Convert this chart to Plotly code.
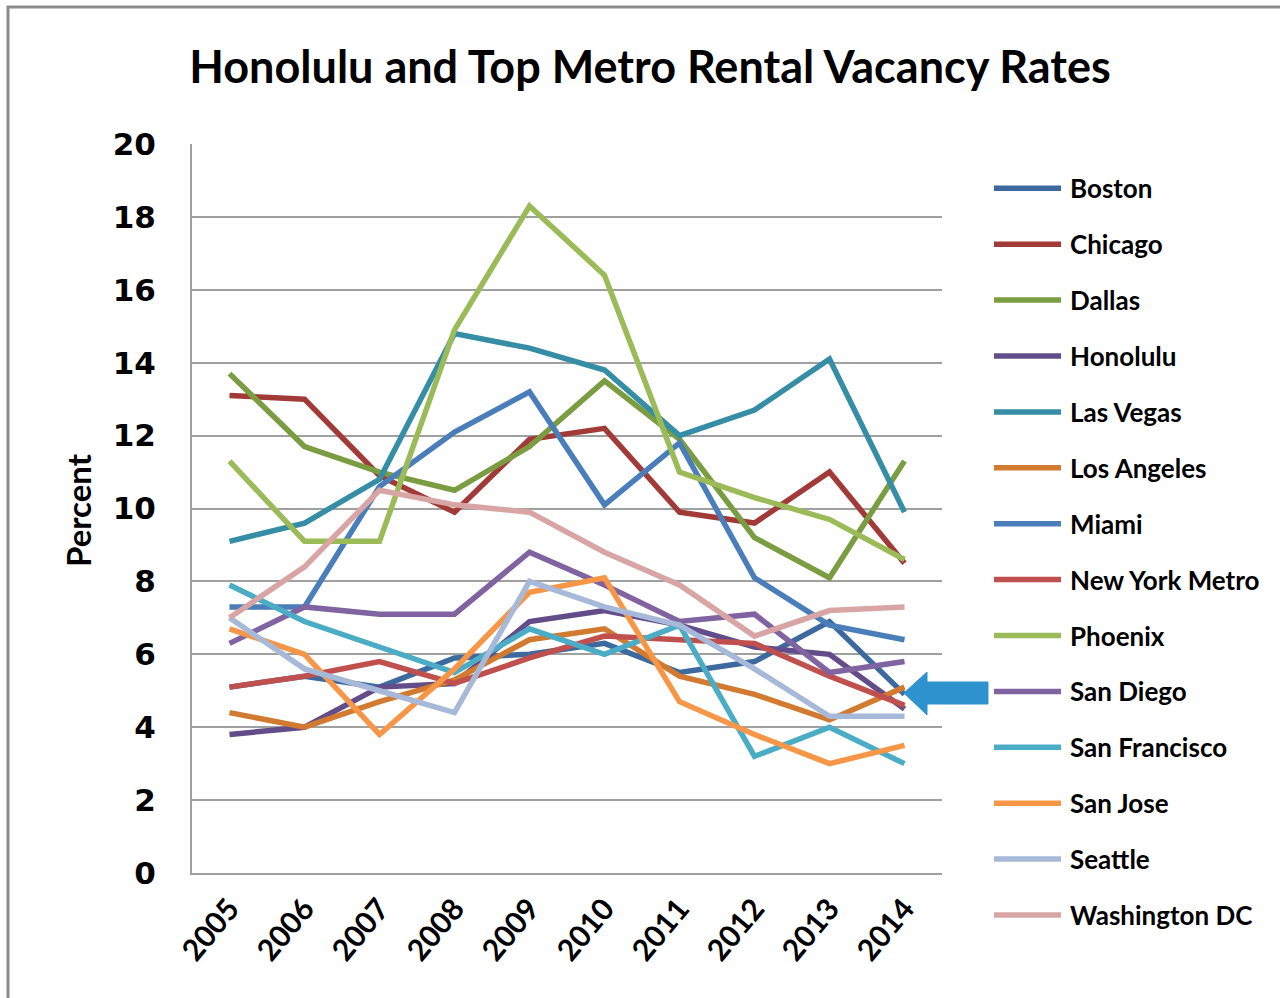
import plotly.graph_objects as go

years = [2005, 2006, 2007, 2008, 2009, 2010, 2011, 2012, 2013, 2014]
year_labels = [str(y) for y in years]

boston = [5.1, 5.4, 5.1, 5.9, 6.0, 6.3, 5.5, 5.8, 6.9, 4.9]
chicago = [13.1, 13.0, 10.9, 9.9, 11.9, 12.2, 9.9, 9.6, 11.0, 8.5]
dallas = [13.7, 11.7, 11.0, 10.5, 11.7, 13.5, 11.9, 9.2, 8.1, 11.3]
honolulu = [3.8, 4.0, 5.1, 5.2, 6.9, 7.2, 6.8, 6.2, 6.0, 4.5]
las_vegas = [9.1, 9.6, 10.8, 14.8, 14.4, 13.8, 12.0, 12.7, 14.1, 9.9]
los_angeles = [4.4, 4.0, 4.7, 5.3, 6.4, 6.7, 5.4, 4.9, 4.2, 5.1]
miami = [7.3, 7.3, 10.6, 12.1, 13.2, 10.1, 11.8, 8.1, 6.8, 6.4]
new_york = [5.1, 5.4, 5.8, 5.2, 5.9, 6.5, 6.4, 6.3, 5.4, 4.6]
phoenix = [11.3, 9.1, 9.1, 14.9, 18.3, 16.4, 11.0, 10.3, 9.7, 8.6]
san_diego = [6.3, 7.3, 7.1, 7.1, 8.8, 7.9, 6.9, 7.1, 5.5, 5.8]
san_francisco = [7.9, 6.9, 6.2, 5.5, 6.7, 6.0, 6.8, 3.2, 4.0, 3.0]
san_jose = [6.7, 6.0, 3.8, 5.6, 7.7, 8.1, 4.7, 3.8, 3.0, 3.5]
seattle = [7.0, 5.6, 5.0, 4.4, 8.0, 7.3, 6.8, 5.6, 4.3, 4.3]
washington_dc = [7.0, 8.4, 10.5, 10.1, 9.9, 8.8, 7.9, 6.5, 7.2, 7.3]

names = ["Boston", "Chicago", "Dallas", "Honolulu", "Las Vegas", "Los Angeles",
         "Miami", "New York Metro", "Phoenix", "San Diego", "San Francisco",
         "San Jose", "Seattle", "Washington DC"]
series = [boston, chicago, dallas, honolulu, las_vegas, los_angeles, miami,
          new_york, phoenix, san_diego, san_francisco, san_jose, seattle,
          washington_dc]
colors = ["#3C6A9E", "#A23B38", "#7B9D41", "#624C89", "#358DA6", "#D27B30",
          "#4A7EBB", "#C0504D", "#9BBB59", "#8064A2", "#4BACC6", "#F79646",
          "#A7B9D9", "#D9A5A4"]

fig = go.Figure()
for name, vals, col in zip(names, series, colors):
    fig.add_trace(go.Scatter(x=years, y=vals, mode="lines", name=name,
                             line=dict(color=col, width=5.5),
                             showlegend=False))

# plot area pixel geometry
L, R, T, B = 192, 942, 144, 873
W, H = R - L, B - T

def px(x):
    return (x - L) / W

def py(y):
    return (B - y) / H

shapes = []
annotations = []
# custom legend
for i, (name, col) in enumerate(zip(names, colors)):
    yy = 188.3 + 55.9 * i
    shapes.append(dict(type="line", xref="paper", yref="paper",
                       x0=px(994), x1=px(1061), y0=py(yy), y1=py(yy),
                       line=dict(color=col, width=5.5)))
    annotations.append(dict(xref="paper", yref="paper", x=px(1068), y=py(yy),
                            text=name, showarrow=False, xanchor="left",
                            yanchor="middle",
                            font=dict(family="Lato", size=26, color="#000000",
                                      weight="bold")))

# arrow pointing at Honolulu
ax = [904, 927, 927, 988, 988, 927, 927]
ay = [693, 672, 682, 682, 704, 704, 715]
path = "M " + " L ".join(f"{px(a):.5f},{py(b):.5f}" for a, b in zip(ax, ay)) + " Z"
shapes.append(dict(type="path", xref="paper", yref="paper", path=path,
                   fillcolor="#2E92CF", line=dict(color="#2E92CF", width=1)))

# outer frame
shapes.append(dict(type="rect", xref="paper", yref="paper",
                   x0=px(8), x1=px(1290), y0=py(1010), y1=py(7),
                   line=dict(color="#8C8C8C", width=3), fillcolor="rgba(0,0,0,0)",
                   layer="below"))

# y-axis title
annotations.append(dict(xref="paper", yref="paper", x=px(78), y=py(510),
                        text="Percent", textangle=-90, showarrow=False,
                        xanchor="center", yanchor="middle",
                        font=dict(family="Lato", size=33, color="#000000",
                                  weight="bold")))

fig.update_layout(
    width=1280, height=998,
    margin=dict(l=L, r=1280 - R, t=T, b=998 - B, pad=0),
    paper_bgcolor="white", plot_bgcolor="white",
    title=dict(text="Honolulu and Top Metro Rental Vacancy Rates",
               x=650 / 1280, xanchor="center", y=1 - 67 / 998, yanchor="middle",
               font=dict(family="Lato", size=45, color="#000000", weight="bold")),
    shapes=shapes, annotations=annotations,
    xaxis=dict(range=[2004.5, 2014.5], tickmode="array", tickvals=years,
               ticktext=year_labels, tickangle=-50, showgrid=False,
               showline=True, linecolor="#A0A0A0", linewidth=2, mirror=False,
               zeroline=False, ticks="", ticklabelstandoff=4,
               tickfont=dict(family="Lato", size=30, color="#000000",
                             weight="bold")),
    yaxis=dict(range=[0, 20], tickmode="array", tickvals=list(range(0, 21, 2)),
               showgrid=True, gridcolor="#A0A0A0", gridwidth=2,
               showline=True, linecolor="#A0A0A0", linewidth=2,
               zeroline=False, ticks="", ticklabelstandoff=28,
               tickfont=dict(family="DejaVu Sans", size=31, color="#000000",
                             weight="bold")),
)

fig.write_html("out.html", config={"displayModeBar": False},
               post_script="document.body.style.margin='0';")
